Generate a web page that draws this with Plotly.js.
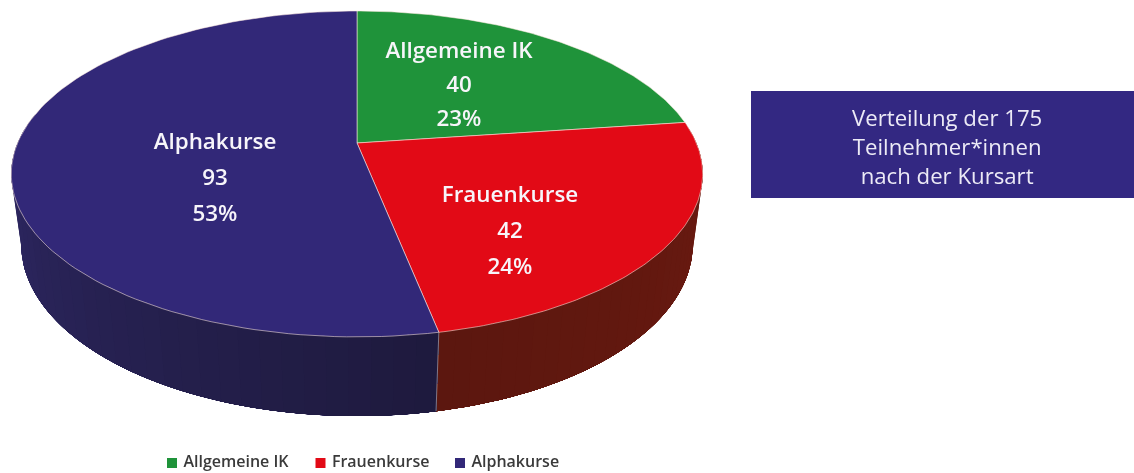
<!DOCTYPE html>
<html>
<head>
<meta charset="utf-8">
<script src="https://cdn.plot.ly/plotly-3.0.1.min.js"></script>
<style>html,body{margin:0;padding:0;background:#fff;overflow:hidden}#chart{width:1134px;height:473px;filter:blur(0.5px)}</style>
</head>
<body>
<div id="chart"></div>
<script>
// Data
const categories = ['Allgemeine IK', 'Frauenkurse', 'Alphakurse'];
const values = [40, 42, 93];
const percentLabels = ['23%', '24%', '53%'];
const boxLines = ['Verteilung der 175', 'Teilnehmer*innen', 'nach der Kursart'];

// Styles
const topColors = ['#1f933a', '#e20a16', '#322878'];
const sideStart = [null, [92, 23, 15], [30, 26, 62]];
const sideEnd = [null, [108, 26, 16], [48, 41, 104]];
const edgeColor = 'rgba(255,235,225,0.55)';
const textColor = '#f7f5fa';
const legendText = '#3a3a3a';
const font = 'Open Sans';

// 3D view: projected circle, extruded downward
const view = {cx: 357, A: 339.4, a: -129.9, b: 143, c: 0.19, e: 0.0286, g: 76};
function project(theta, h) {
  const u = Math.sin(theta), v = Math.cos(theta);
  const w = 1 + view.c * v + view.e * h;
  return [view.cx + view.A * u / w, (view.a * v + view.b + view.g * h) / w];
}
function apex() { return [view.cx, view.b]; }

const total = values.reduce((s, v) => s + v, 0);
let run = 0;
const slices = values.map(v => { const s = run; run += v; return [s / total * 2 * Math.PI, run / total * 2 * Math.PI]; });
const visibleLimit = 281 * Math.PI / 180;

const traces = [];
function poly(pts, fill, line, width) {
  traces.push({type: 'scatter', mode: 'lines', x: pts.map(p => p[0]), y: pts.map(p => p[1]),
    fill: 'toself', fillcolor: fill, line: {color: line || fill, width: width === undefined ? 0 : width},
    hoverinfo: 'skip', showlegend: false});
}
function mix(a, b, t) { return 'rgb(' + a.map((x, i) => Math.round(x + (b[i] - x) * t)).join(',') + ')'; }

// Side wall as shaded strips: each strip runs to the end of its slice, later ones paint over it
[1, 2].forEach(i => {
  const t0 = slices[i][0], t1 = Math.min(slices[i][1], visibleLimit);
  const n = 36;
  for (let k = 0; k < n; k++) {
    const start = i === 1 ? t0 + (t1 - t0) * k / n : t0;
    const end = i === 1 ? t1 : t0 + (t1 - t0) * (n - k) / n;
    const f = 1 - k / (n - 1);
    const pts = [];
    const m = 60;
    for (let j = 0; j <= m; j++) pts.push(project(start + (end - start) * j / m, 0));
    for (let j = m; j >= 0; j--) pts.push(project(start + (end - start) * j / m, 1));
    pts.push(pts[0]);
    poly(pts, mix(sideStart[i], sideEnd[i], f));
  }
});

// Top slices
slices.forEach((s, i) => {
  const pts = [apex()];
  const n = 120;
  for (let j = 0; j <= n; j++) pts.push(project(s[0] + (s[1] - s[0]) * j / n, 0));
  pts.push(apex());
  poly(pts, topColors[i], edgeColor, 1);
});

// Seam on the side wall
{
  const seam = [project(slices[1][1], 0), project(slices[1][1], 1)];
  traces.push({type: 'scatter', mode: 'lines', x: seam.map(p => p[0]), y: seam.map(p => p[1]),
    line: {color: 'rgba(255,235,225,0.45)', width: 1}, hoverinfo: 'skip', showlegend: false});
}

// Slice labels
const labelX = [459, 510, 215];
const labelY = [[52, 86, 120], [196, 232, 268], [143, 179, 215]];
categories.forEach((c, i) => {
  traces.push({type: 'scatter', mode: 'text', x: [labelX[i], labelX[i], labelX[i]], y: labelY[i],
    text: [c, String(values[i]), percentLabels[i]],
    textposition: 'middle center', textfont: {family: font, size: 22.4, color: textColor, weight: 600},
    hoverinfo: 'skip', showlegend: false});
});

// Legend
const legendX = [172, 320.5, 460];
const legendY = 463;
categories.forEach((c, i) => {
  traces.push({type: 'scatter', mode: 'markers+text', x: [legendX[i]], y: [legendY], text: [' ' + c],
    textposition: 'middle right', textfont: {family: font, size: 16, color: legendText, weight: 600},
    marker: {symbol: 'square', size: 10, color: topColors[i]}, hoverinfo: 'skip', showlegend: false});
});

const layout = {
  width: 1134, height: 473, margin: {l: 0, r: 0, t: 0, b: 0},
  paper_bgcolor: '#fff', plot_bgcolor: '#fff', showlegend: false,
  xaxis: {range: [0, 1134], visible: false, fixedrange: true},
  yaxis: {range: [473, 0], visible: false, fixedrange: true},
  shapes: [{type: 'rect', xref: 'x', yref: 'y', x0: 751, x1: 1134, y0: 91, y1: 198, fillcolor: '#332882', line: {width: 0}, layer: 'below'}],
  annotations: [{xref: 'x', yref: 'y', x: 947, y: 146.5, showarrow: false, align: 'center',
    text: boxLines.join('<br>'), font: {family: font, size: 22.2, color: '#eceaf6'}}]
};
Plotly.newPlot('chart', traces, layout, {displayModeBar: false, staticPlot: true});
</script>
</body>
</html>
